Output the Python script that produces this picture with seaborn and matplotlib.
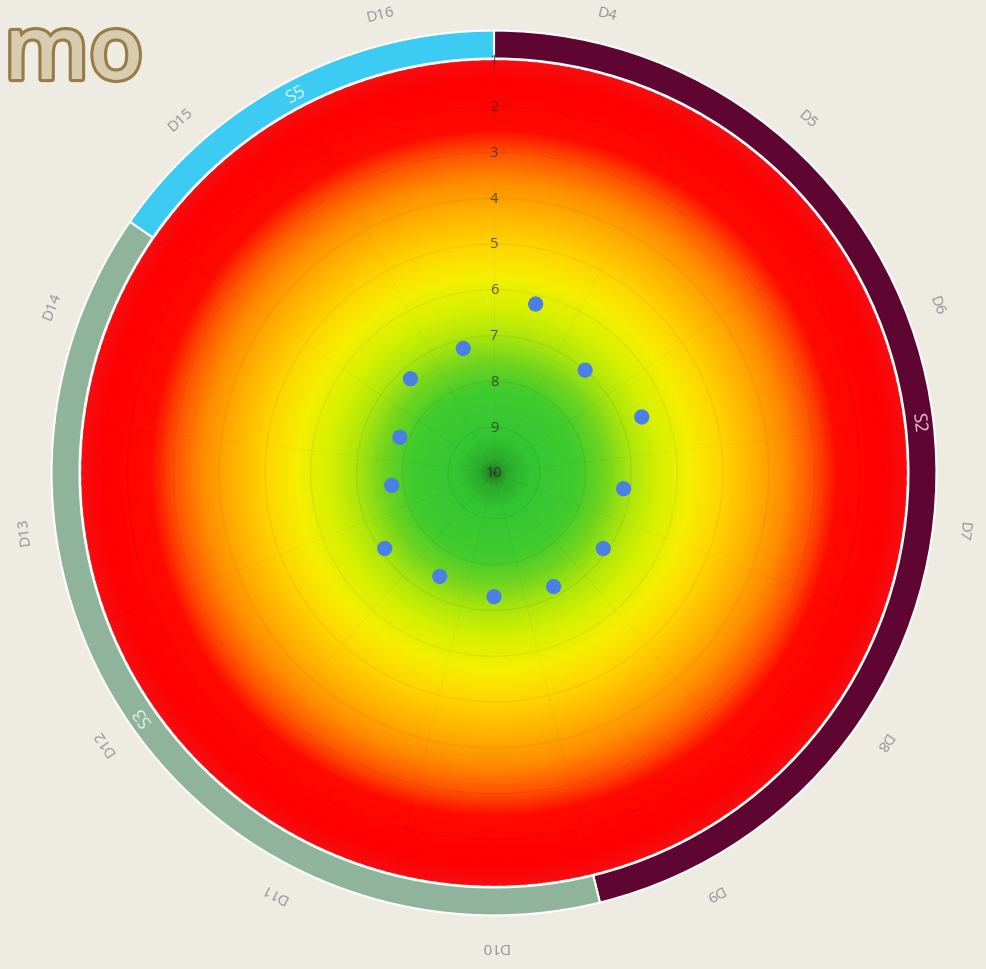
import numpy as np
import pandas as pd
import matplotlib
matplotlib.use("Agg")
import matplotlib.pyplot as plt
import matplotlib.patheffects as pe
from matplotlib.colors import LinearSegmentedColormap
import seaborn as sns

# data
categories = ["D4", "D5", "D6", "D7", "D8", "D9", "D10",
              "D11", "D12", "D13", "D14", "D15", "D16"]
scores = [6.2, 7.0, 6.55, 7.15, 7.1, 7.2, 7.3, 7.45, 7.1, 7.75, 7.8, 7.25, 7.2]
groups = ["S2", "S3", "S5"]
group_sizes = [6, 5, 2]
group_colors = ["#5e0532", "#8fb39b", "#3ccbf3"]
group_text = ["#f2c6dc", "#e4efe6", "#dff6fd"]
rings = list(range(1, 11))
title_text = "mo"

BG = "#eeebe3"

sns.set_theme(style="white", rc={"figure.facecolor": BG, "axes.facecolor": "none"})
plt.rcParams["font.family"] = ["Open Sans", "DejaVu Sans"]

fig = plt.figure(figsize=(9.86, 9.70), dpi=100)
px_per_unit = 45.8
r_outer = 0.3
rad_px = (10 - r_outer) * px_per_unit
cx, cy = 494, 970 - 474
ax = fig.add_axes([(cx - rad_px) / 986, (cy - rad_px) / 970,
                   2 * rad_px / 986, 2 * rad_px / 970], projection="polar")
ax.set_theta_zero_location("N")
ax.set_theta_direction(-1)
ax.set_ylim(10, r_outer)
ax.grid(False)
ax.set_xticks([])
ax.set_yticks([])
ax.spines["polar"].set_visible(False)

n = len(categories)
step = 2 * np.pi / n
centers = (np.arange(n) + 0.5) * step
bounds = np.arange(n) * step

# radial colour gradient of the disk
stops = [(1.0, "#f80c10"), (1.5, "#ff0000"), (2.5, "#ff0a00"), (3.0, "#ff5200"),
         (3.6, "#ff8a00"), (4.3, "#ffb200"), (5.0, "#ffd400"), (5.7, "#f6ef00"),
         (6.4, "#d6f000"), (7.0, "#ade60c"), (7.6, "#70d41e"), (8.2, "#3fcb2e"),
         (9.2, "#33c633"), (9.75, "#2bab2b"), (10.0, "#237a23")]
cmap = LinearSegmentedColormap.from_list("heat", [((v - 1) / 9, c) for v, c in stops])
tt, rr = np.meshgrid(np.linspace(0, 2 * np.pi, 241), np.linspace(1, 10, 300))
ax.pcolormesh(tt, rr, rr, cmap=cmap, vmin=1, vmax=10, shading="gouraud", zorder=0.2)

# faint grid circles and spokes
full = np.linspace(0, 2 * np.pi, 400)
for v in rings[1:]:
    ax.plot(full, np.full_like(full, v), color="black", alpha=0.06, lw=1.0, zorder=1)
for b in bounds:
    ax.plot([b, b], [10, 1], color="black", alpha=0.035, lw=0.8, zorder=1)

# outer group ring
starts = np.cumsum([0] + group_sizes[:-1]) * step
ax.bar(starts, [r_outer + 0.04 - 0.95] * len(groups), width=np.array(group_sizes) * step,
       bottom=0.95, align="edge", color=group_colors, edgecolor="white", lw=1.5, zorder=2)
for g, s, size, tc in zip(groups, starts, group_sizes, group_text):
    mid = s + size * step / 2
    ax.text(mid, 0.66, g, rotation=-np.degrees(mid), rotation_mode="anchor",
            ha="center", va="center", fontsize=13, color=tc, zorder=4)

# category labels
for c, th in zip(categories, centers):
    ax.text(th, -0.32, c, rotation=-np.degrees(th), rotation_mode="anchor",
            ha="center", va="center", fontsize=11, color="#929292")

# ring value labels
for v in rings:
    ax.text(0, v, str(v), ha="center", va="center", fontsize=10.5,
            color="#2b2b2b", alpha=0.75, zorder=4)

df = pd.DataFrame({"theta": centers, "score": scores, "cat": categories})
sns.scatterplot(data=df, x="theta", y="score", ax=ax, color="#4a80e4",
                s=120, edgecolor="none", zorder=3, legend=False)
ax.set_xlabel("")
ax.set_ylabel("")

fig.text(4 / 986, 1 - 80 / 970, title_text, ha="left", va="baseline",
         fontsize=64, fontweight="semibold", color="#d8ccb0",
         path_effects=[pe.Stroke(linewidth=4.5, foreground="#977c47"), pe.Normal()])

fig.savefig("out.png", dpi=100, facecolor=BG)
